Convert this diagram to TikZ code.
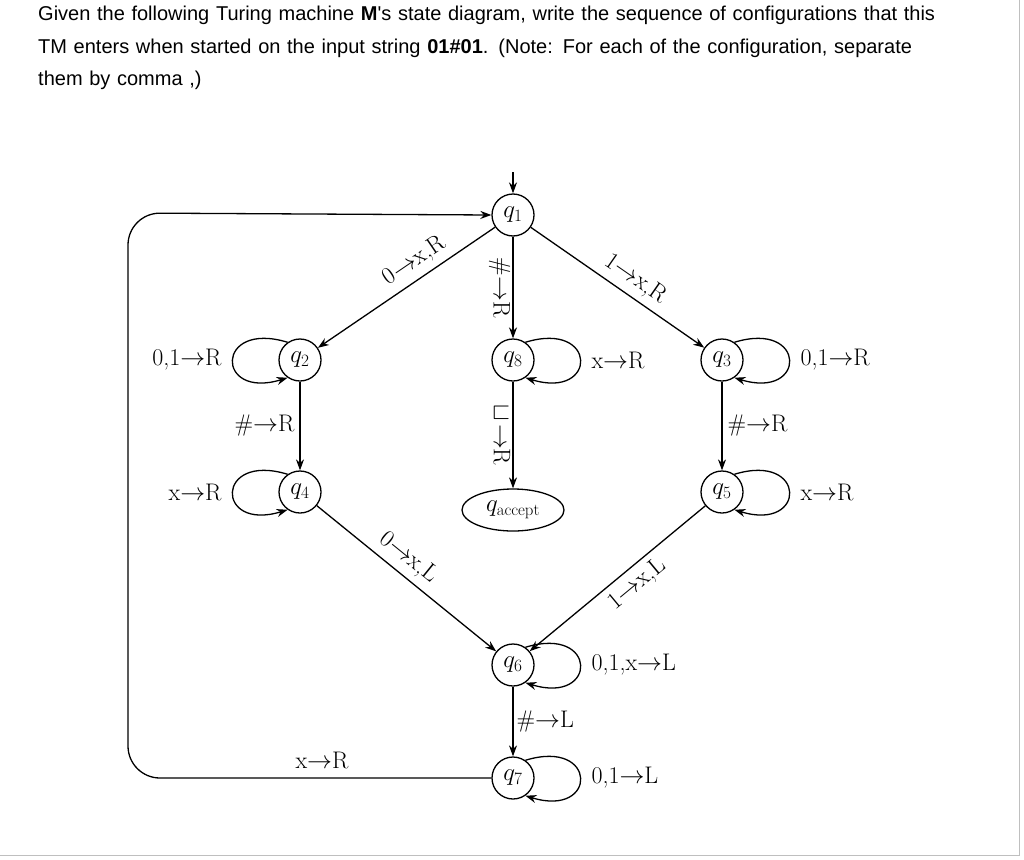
\documentclass[tikz,border=0pt]{standalone}
\usepackage{fontspec}
\newfontfamily\hdr{Liberation Sans}
\usetikzlibrary{shapes.geometric,arrows.meta}
\begin{document}
\begin{tikzpicture}[x=1pt,y=-1pt,
  st/.style={draw,circle,line width=1.3pt,minimum size=42pt,inner sep=0pt,font=\fontsize{24}{26}\selectfont},
  lb/.style={font=\fontsize{24}{26}\selectfont,inner sep=3pt},
  ar/.style={line width=1.3pt,-{Stealth[length=11pt,width=8pt]}}]
\useasboundingbox (0,0) rectangle (1024,859);
\draw[black!25,line width=1pt] (1019,0) -- (1019,855) -- (0,855);
\node[anchor=north west,align=left,font=\hdr\fontsize{20}{32.5}\selectfont,text width=905pt,inner sep=0pt] (hd) at (38,6)
 {Given the following Turing machine \textbf{M}'s state diagram, write the sequence of configurations that this TM enters when started on the input string \textbf{01\#01}. (Note: For each of the configuration, separate them by comma ,)};
\node[st] (q1) at (513,215) {$q_1$};
\node[st] (q2) at (300,360) {$q_2$};
\node[st] (q8) at (513,360) {$q_8$};
\node[st] (q3) at (722,360) {$q_3$};
\node[st] (q4) at (300,492) {$q_4$};
\node[draw,ellipse,line width=1.3pt,minimum width=102pt,minimum height=42pt,inner sep=0pt,font=\fontsize{24}{26}\selectfont] (qa) at (513,510) {$q_{\mathrm{accept}}$};
\node[st] (q5) at (722,492) {$q_5$};
\node[st] (q6) at (513,665) {$q_6$};
\node[st] (q7) at (513,778) {$q_7$};
\coordinate (s) at (513,172);
\draw[ar] (s) -- (q1);
\draw[ar] (q1) -- node[lb,sloped,above=3pt,pos=0.4]{0$\rightarrow$x,R} (q2);
\draw[ar] (q1) -- node[lb,sloped,above=3pt,pos=0.55]{1$\rightarrow$x,R} (q3);
\draw[ar] (q1) -- node[lb,rotate=-90,pos=0.5,anchor=north,inner sep=2pt]{\#$\rightarrow$R} (q8);
\draw[ar] (q8) -- node[lb,rotate=-90,pos=0.5,anchor=north,inner sep=2pt]{$\sqcup\!\rightarrow$R} (qa);
\draw[ar] (q2) -- node[lb,left=2pt]{\#$\rightarrow$R} (q4);
\draw[ar] (q3) -- node[lb,right=2pt]{\#$\rightarrow$R} (q5);
\draw[ar] (q4) -- node[lb,sloped,above=3pt,pos=0.45]{0$\rightarrow$x,L} (q6);
\draw[ar] (q5) -- node[lb,sloped,below=3pt,pos=0.45]{1$\rightarrow$x,L} (q6);
\draw[ar] (q6) -- node[lb,right=0pt]{\#$\rightarrow$L} (q7);
\draw[ar] (q2.125) .. controls (215,320) and (215,400) .. node[lb,left=8pt]{0,1$\rightarrow$R} (q2.235);
\draw[ar] (q4.125) .. controls (215,452) and (215,532) .. node[lb,left=8pt]{x$\rightarrow$R} (q4.235);
\draw[ar] (q8.55) .. controls (598,320) and (598,400) .. node[lb,right=8pt]{x$\rightarrow$R} (q8.305);
\draw[ar] (q3.55) .. controls (807,320) and (807,400) .. node[lb,right=8pt]{0,1$\rightarrow$R} (q3.305);
\draw[ar] (q5.55) .. controls (807,452) and (807,532) .. node[lb,right=8pt]{x$\rightarrow$R} (q5.305);
\draw[ar] (q6.55) .. controls (598,625) and (598,705) .. node[lb,right=8pt]{0,1,x$\rightarrow$L} (q6.305);
\draw[ar] (q7.55) .. controls (598,738) and (598,818) .. node[lb,right=8pt]{0,1$\rightarrow$L} (q7.305);
\draw[ar,rounded corners=32pt] (q7.west) -- (128,778) -- (128,213) -- (q1.west);
\node[lb] (lx) at (322,760) {x$\rightarrow$R};
\end{tikzpicture}
\end{document}
